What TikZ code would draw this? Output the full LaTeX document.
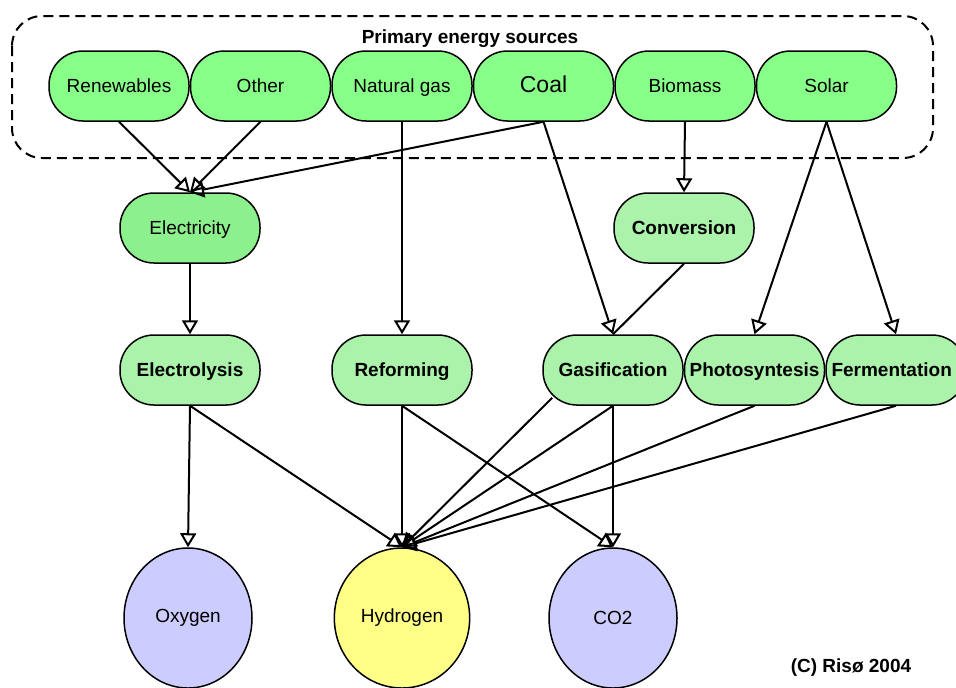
\documentclass[tikz,border=0pt]{standalone}
\usepackage{fontspec}
\setmainfont{Liberation Sans}
\usetikzlibrary{arrows.meta, positioning, shapes.geometric}

\definecolor{srcgreen}{HTML}{88FF88}
\definecolor{elecgreen}{HTML}{8CF08C}
\definecolor{procgreen}{HTML}{ABF2AB}
\definecolor{gasblue}{HTML}{CCCCFF}
\definecolor{hydyellow}{HTML}{FFFF88}

\begin{document}
\begin{tikzpicture}[x=0.5pt, y=-0.5pt, font=\fontsize{9.5}{11}\selectfont,
  pill/.style={draw, line width=0.75pt, rectangle, rounded corners=17pt, minimum width=70pt, minimum height=35pt, inner xsep=0pt, text height=1.6ex, text depth=.3ex},
  src/.style={pill, fill=srcgreen},
  proc/.style={pill, fill=procgreen, font=\fontsize{9.5}{11}\selectfont\bfseries},
  product/.style={draw, line width=0.75pt, ellipse, minimum width=64pt, minimum height=70pt},
  arr/.style={line width=1pt, -{Triangle[open, length=7pt, width=8pt]}},
  plain/.style={line width=1pt}]
\useasboundingbox (0,0) rectangle (956,687);
\clip (0,0) rectangle (956,687);

\draw[line width=1pt, dash pattern=on 5pt off 3pt, rounded corners=15pt] (12,16) rectangle (933,158);
\node[font=\fontsize{9.5}{11}\selectfont\bfseries] (title) at (470,39) {Primary energy sources};

\node[src] (ren) at (119,86) {Renewables};
\node[src, right=0pt of ren] (oth) {Other};
\node[src, right=0pt of oth] (gas) {Natural gas};
\node[src, right=0pt of gas, font=\fontsize{11.5}{13}\selectfont] (coal) {Coal};
\node[src, right=0pt of coal] (bio) {Biomass};
\node[src, right=0pt of bio] (sol) {Solar};

\node[pill, fill=elecgreen] (elec) at (190,228) {Electricity};
\node[proc] (conv) at (684,228) {Conversion};

\node[proc] (elys) at (190,370) {Electrolysis};
\node[proc] (ref) at (402,370) {Reforming};
\node[proc] (gasif) at (613,370) {Gasification};
\node[proc, right=0pt of gasif] (photo) {Photosyntesis};
\node[proc, right=0pt of photo, text width=64.5pt, align=left] (ferm) {Fermentation};

\node[product, fill=gasblue] (oxy) at (188,618) {Oxygen};
\node[product, fill=hydyellow] (hyd) at (402,618) {Hydrogen};
\node[product, fill=gasblue] (co2) at (613,618) {CO2};

\node[font=\fontsize{9.5}{11}\selectfont\bfseries] (copy) at (851,668) {(C) Risø 2004};

\draw[arr] (ren.south) -- (elec.north);
\draw[arr] (oth.south) -- (elec.north);
\draw[arr] (coal.south) -- (elec.north);
\draw[arr] (gas.south) -- (ref.north);
\draw[arr] (coal.south) -- (gasif.north);
\draw[arr] (bio.south) -- (conv.north);
\draw[plain] (conv.south) -- (gasif.north);
\draw[arr] (sol.south) -- (photo.north);
\draw[arr] (sol.south) -- (ferm.north);
\draw[arr] (elec.south) -- (elys.north);

\draw[arr] (elys.south) -- (oxy.north);
\draw[arr] (elys.south) -- (hyd.north);
\draw[arr] (ref.south) -- (hyd.north);
\draw[arr] (ref.south) -- (co2.north);
\draw[arr] ([shift={(5pt,4pt)}]gasif.south west) -- (hyd.north);
\draw[arr] (gasif.south) -- (hyd.north);
\draw[arr] (gasif.south) -- (co2.north);
\draw[arr] (photo.south) -- (hyd.north);
\draw[arr] (ferm.south) -- (hyd.north);
\end{tikzpicture}
\end{document}
